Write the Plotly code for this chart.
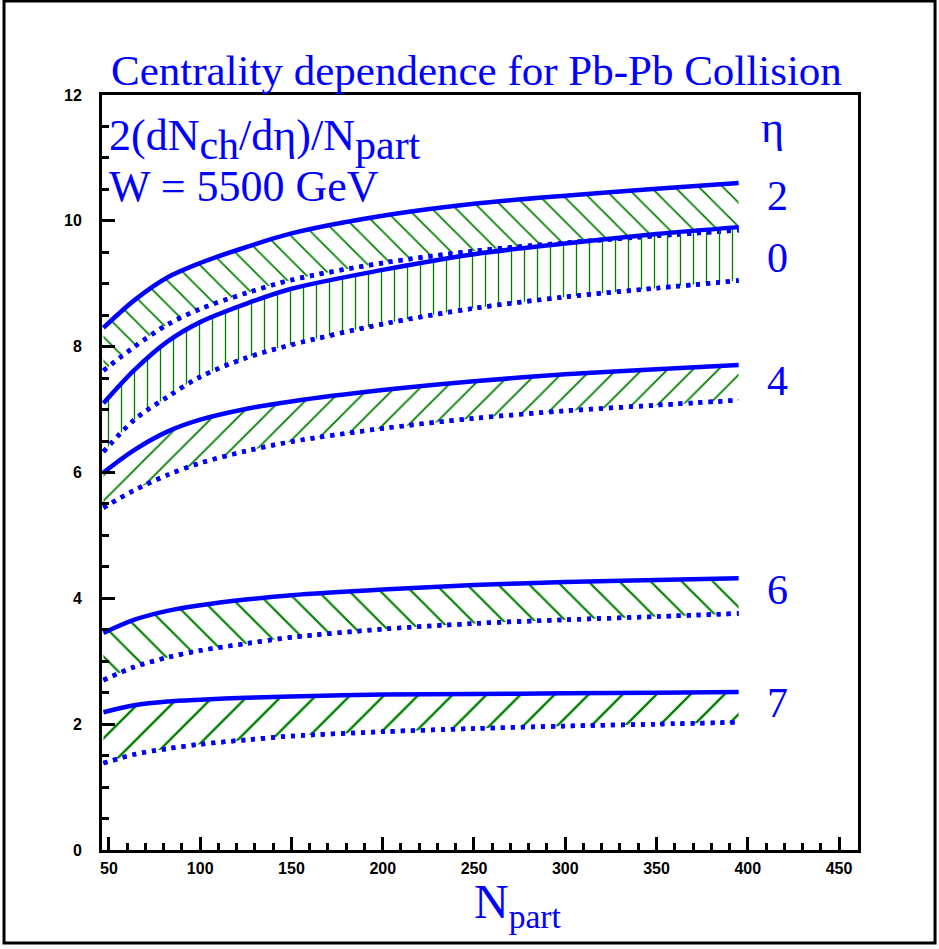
import plotly.graph_objects as go

# ---------------- data ----------------
npart = [47, 64, 82, 100, 125, 150, 200, 250, 300, 350, 395]

eta2_upper = [8.30, 8.74, 9.10, 9.33, 9.58, 9.80, 10.08, 10.27, 10.40, 10.51, 10.60]
eta2_lower = [7.62, 8.00, 8.35, 8.60, 8.85, 9.06, 9.33, 9.52, 9.65, 9.76, 9.85]
eta0_upper = [7.10, 7.63, 8.08, 8.39, 8.68, 8.92, 9.22, 9.47, 9.64, 9.79, 9.90]
eta0_lower = [6.33, 6.84, 7.20, 7.52, 7.82, 8.03, 8.36, 8.61, 8.79, 8.93, 9.05]
eta4_upper = [6.00, 6.36, 6.65, 6.84, 7.01, 7.13, 7.31, 7.45, 7.56, 7.64, 7.71]
eta4_lower = [5.44, 5.72, 5.96, 6.15, 6.34, 6.49, 6.70, 6.86, 6.98, 7.07, 7.15]
eta6_upper = [3.45, 3.66, 3.80, 3.89, 3.98, 4.05, 4.14, 4.21, 4.26, 4.29, 4.32]
eta6_lower = [2.70, 2.91, 3.06, 3.17, 3.28, 3.38, 3.51, 3.60, 3.66, 3.71, 3.76]
eta7_upper = [2.19, 2.30, 2.36, 2.39, 2.42, 2.44, 2.47, 2.48, 2.49, 2.50, 2.51]
eta7_lower = [1.38, 1.52, 1.61, 1.68, 1.75, 1.81, 1.88, 1.93, 1.97, 2.00, 2.03]

eta_labels = ["2", "0", "4", "6", "7"]
label_y = [10.4, 9.41, 7.46, 4.13, 2.34]

x_ticks = [50, 100, 150, 200, 250, 300, 350, 400, 450]
y_ticks = [0, 2, 4, 6, 8, 10, 12]

bands = [
    (eta2_lower, eta2_upper, "\\", 17),
    (eta0_lower, eta0_upper, "|", 13),
    (eta4_lower, eta4_upper, "/", 18),
    (eta6_lower, eta6_upper, "\\", 22),
    (eta7_lower, eta7_upper, "/", 24),
]

BLUE = "#0000ff"
GREEN = "#008000"
SMOOTH = 0.9

fig = go.Figure()
for lower, upper, shape, size in bands:
    fig.add_trace(go.Scatter(
        x=npart, y=lower, mode="lines",
        line=dict(color=BLUE, width=4.5, dash="4px,6px", shape="spline", smoothing=SMOOTH),
        hoverinfo="skip", showlegend=False))
    fig.add_trace(go.Scatter(
        x=npart, y=upper, mode="lines",
        line=dict(color=BLUE, width=4.5, shape="spline", smoothing=SMOOTH),
        fill="tonexty", fillcolor="rgba(0,0,0,0)",
        fillpattern=dict(shape=shape, fgcolor=GREEN, bgcolor="rgba(0,0,0,0)",
                         size=size, solidity=0.1, fillmode="replace"),
        hoverinfo="skip", showlegend=False))
    # redraw dotted line on top of the fill
    fig.add_trace(go.Scatter(
        x=npart, y=lower, mode="lines",
        line=dict(color=BLUE, width=4.5, dash="4px,6px", shape="spline", smoothing=SMOOTH),
        hoverinfo="skip", showlegend=False))

serif = "Liberation Serif"
sub = '<sub><span style="font-size:42px">{}</span></sub>'
annotations = []
for lab, yy in zip(eta_labels, label_y):
    annotations.append(dict(x=416.5, y=yy, xref="x", yref="y", text=lab, yanchor="middle",
                            showarrow=False, font=dict(family=serif, size=42, color=BLUE)))
annotations.append(dict(x=413.5, y=11.48, xref="x", yref="y", text="η", yanchor="middle",
                        showarrow=False, font=dict(family=serif, size=44, color=BLUE)))
annotations.append(dict(x=49.2, y=11.3, xref="x", yref="y", xanchor="left", yanchor="middle",
                        text="2(dN" + sub.format("ch") + "/dη)/N" + sub.format("part"),
                        showarrow=False, font=dict(family=serif, size=44, color=BLUE)))
annotations.append(dict(x=49.2, y=10.55, xref="x", yref="y", xanchor="left", yanchor="middle",
                        text="W = 5500 GeV",
                        showarrow=False, font=dict(family=serif, size=44, color=BLUE)))
annotations.append(dict(x=0.496, y=1.033, xref="paper", yref="paper", yanchor="middle",
                        text="Centrality dependence for Pb-Pb Collision",
                        showarrow=False, font=dict(family=serif, size=43, color=BLUE)))
annotations.append(dict(x=0.55, y=-0.073, xref="paper", yref="paper", yanchor="middle",
                        text="N<sub>part</sub>",
                        showarrow=False, font=dict(family=serif, size=48, color=BLUE)))

fig.update_layout(
    width=939, height=949,
    margin=dict(l=102, r=81, t=95, b=99),
    paper_bgcolor="white", plot_bgcolor="white",
    annotations=annotations,
    shapes=[dict(type="rect", xref="paper", yref="paper",
                 x0=-0.1296, x1=1.1019, y0=-0.1232, y1=1.1245,
                 line=dict(color="black", width=3))],
)
fig.update_xaxes(
    range=[46.2, 460.4], tickvals=x_ticks, ticktext=[str(v) for v in x_ticks],
    ticks="inside", ticklen=13, tickwidth=3, tickcolor="black",
    minor=dict(dtick=10, tick0=0, ticks="inside", ticklen=7, tickwidth=2.5, tickcolor="black", showgrid=False),
    showline=True, linecolor="black", linewidth=3, mirror=True,
    showgrid=False, zeroline=False,
    tickfont=dict(family="Liberation Sans", size=16, color="black", weight="bold"),
    ticklabelstandoff=2,
)
fig.update_yaxes(
    range=[0, 12], tickvals=y_ticks, ticktext=[str(v) for v in y_ticks],
    ticks="inside", ticklen=13, tickwidth=3, tickcolor="black",
    minor=dict(dtick=0.5, tick0=0, ticks="inside", ticklen=7, tickwidth=2.5, tickcolor="black", showgrid=False),
    showline=True, linecolor="black", linewidth=3, mirror=True,
    showgrid=False, zeroline=False,
    tickfont=dict(family="Liberation Sans", size=16, color="black", weight="bold"),
    ticklabelstandoff=14,
)

fig.write_html("out.html", config={"displayModeBar": False},
               post_script="document.body.style.margin='0px';")
